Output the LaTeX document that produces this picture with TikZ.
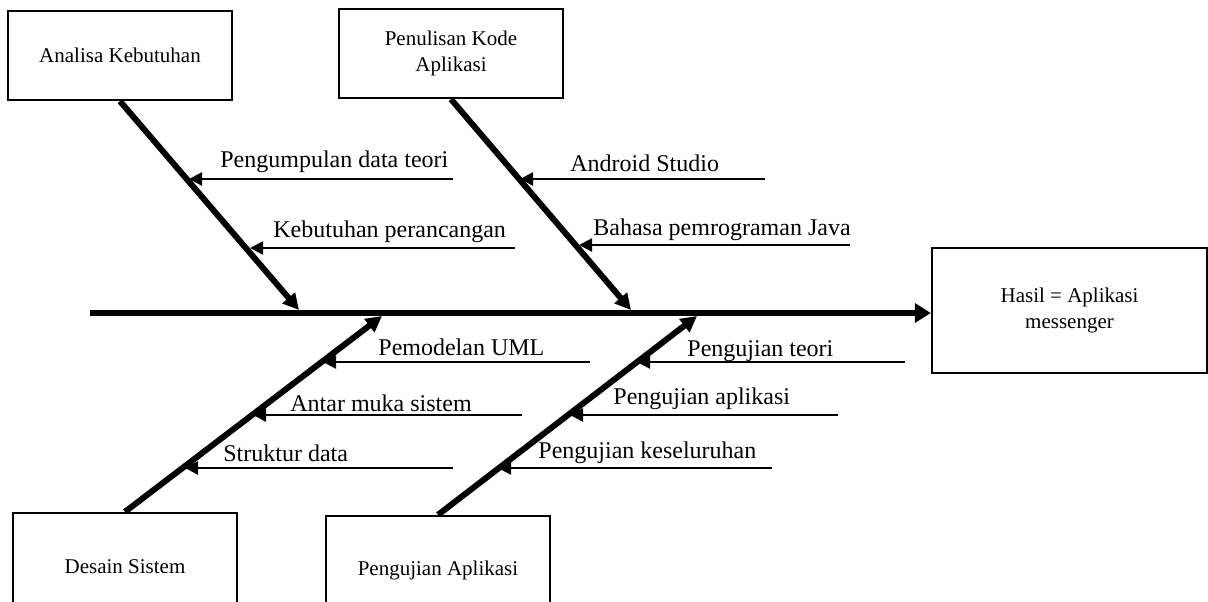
\documentclass[tikz,border=0pt]{standalone}
\usepackage{fontspec}
\setmainfont{Liberation Serif}
\usetikzlibrary{arrows.meta}
\begin{document}
\begin{tikzpicture}[x=0.5pt,y=-0.5pt,
  box/.style={draw,line width=1.2pt,minimum width=112pt,minimum height=44.5pt,inner sep=0pt,align=center,font=\fontsize{10.5}{13}\selectfont},
  lab/.style={anchor=base west,inner sep=0pt,font=\fontsize{12}{14}\selectfont},
  spine/.style={line width=3pt,-{Triangle[length=8pt,width=9.5pt]}},
  bone/.style={line width=3pt,-{Triangle[length=8pt,width=8pt]}},
  sub/.style={line width=1.2pt,-{Triangle[length=6.5pt,width=6.5pt]}}]
\useasboundingbox (0,0) rectangle (1208,601);
% boxes
\node[box] (ak) at (120,55.5) {Analisa Kebutuhan};
\node[box] (pk) at (451,53.5) {Penulisan Kode\\Aplikasi};
\node[box,minimum width=137.5pt,minimum height=62.5pt] (res) at (1069.5,310.5) {Hasil = Aplikasi\\messenger};
\node[box,minimum height=0pt,text height=30pt,text depth=30pt,anchor=base] (ds) at (125,573) {Desain Sistem};
\node[box,minimum height=0pt,text height=29.5pt,text depth=30pt,anchor=base] (ps) at (438,575) {Pengujian Aplikasi};
% spine
\coordinate (sp) at (90,313);
\draw[spine] (sp) -- (sp -| res.west);
% bones
\coordinate (b1) at (299,310);
\coordinate (b2) at (631,310);
\coordinate (b3) at (382,316);
\coordinate (b4) at (697,316);
\draw[bone] (ak.south) -- (b1);
\draw[bone] (pk.south) -- (b2);
\draw[bone] (ds.north) -- (b3);
\draw[bone] (ps.north) -- (b4);
% sub causes
\coordinate (a1) at (453,179); \coordinate (t1) at (189,179);
\coordinate (a2) at (515,248); \coordinate (t2) at (250,248);
\coordinate (a3) at (765,179); \coordinate (t3) at (520,179);
\coordinate (a4) at (850,245); \coordinate (t4) at (579,245);
\coordinate (a5) at (590,362); \coordinate (t5) at (323,362);
\coordinate (a6) at (522,415); \coordinate (t6) at (253,415);
\coordinate (a7) at (453,468); \coordinate (t7) at (185,468);
\coordinate (a8) at (905,362); \coordinate (t8) at (637,362);
\coordinate (a9) at (838,415); \coordinate (t9) at (570,415);
\coordinate (a10) at (772,468); \coordinate (t10) at (498,468);
\foreach \i in {1,...,10} {\draw[sub] (a\i) -- (t\i);}
% labels
\node[lab] (l1) at (220,167) {Pengumpulan data teori};
\node[lab] (l2) at (273,237) {Kebutuhan perancangan};
\node[lab] (l3) at (570,171) {Android Studio};
\node[lab] (l4) at (593,235) {Bahasa pemrograman Java};
\node[lab] (l5) at (378,355) {Pemodelan UML};
\node[lab] (l6) at (290,411) {Antar muka sistem};
\node[lab] (l7) at (223,461) {Struktur data};
\node[lab] (l8) at (687,356) {Pengujian teori};
\node[lab] (l9) at (613,404) {Pengujian aplikasi};
\node[lab] (l10) at (538,458) {Pengujian keseluruhan};
\end{tikzpicture}
\end{document}
